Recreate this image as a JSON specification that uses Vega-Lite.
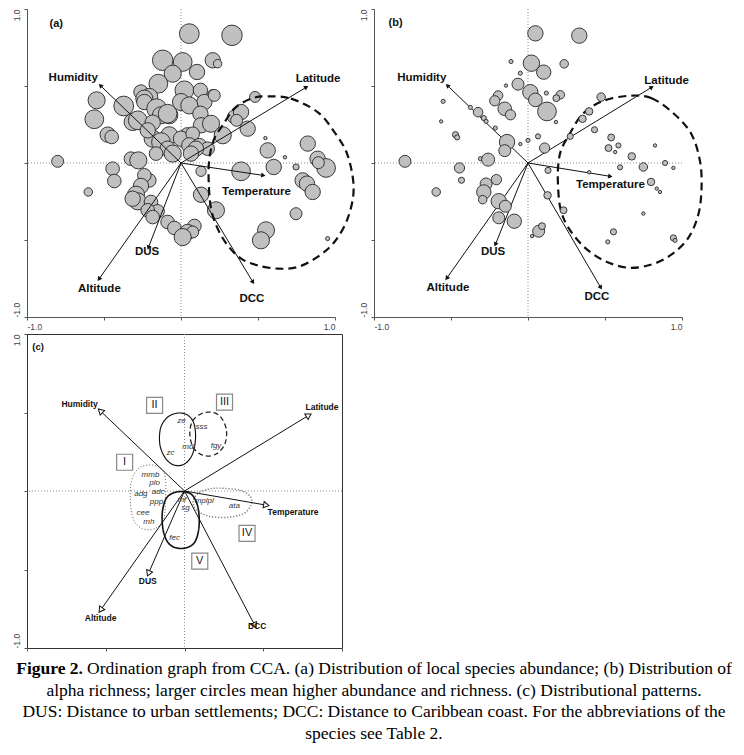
{
  "$schema": "https://vega.github.io/schema/vega-lite/v6.json",
  "padding": {"left": 5, "top": 8, "right": 0, "bottom": 0},
  "spacing": 2,
  "config": {
    "view": {"stroke": null},
    "font": "Liberation Sans",
    "axis": {"grid": false, "title": null, "domainColor": "#555", "tickColor": "#555", "tickSize": 3, "labelFontSize": 8.5, "labelColor": "#444", "labelFont": "Liberation Sans"}
  },
  "vconcat": [
    {
      "hconcat": [
        {
          "width": 308, "height": 308,
          "layer": [
            {"data": {"values": [{}]}, "mark": {"type": "rule", "stroke": "#8a8a8a", "strokeDash": [1, 2], "strokeWidth": 1},
             "encoding": {"x": {"datum": 0, "type": "quantitative", "scale": {"domain": [-1, 1], "nice": false, "zero": false},
               "axis": {"values": [-1, -0.5, 0, 0.5, 1], "labelExpr": "datum.value == 1 ? '1.0' : datum.value == -1 ? '-1.0' : ''", "labelFlush": true, "labelPadding": 2}}}},
            {"data": {"values": [{}]}, "mark": {"type": "rule", "stroke": "#8a8a8a", "strokeDash": [1, 2], "strokeWidth": 1},
             "encoding": {"y": {"datum": 0, "type": "quantitative", "scale": {"domain": [-1, 1], "nice": false, "zero": false},
               "axis": {"values": [-1, -0.5, 0, 0.5, 1], "labelExpr": "datum.value == 1 ? '1.0' : datum.value == -1 ? '-1.0' : ''", "labelAngle": 270, "labelBaseline": "bottom", "labelAlign": {"condition": {"test": "datum.value == 1", "value": "right"}, "value": "left"}, "labelFlush": false, "labelPadding": 3}}}},
            {"data": {"values": [
              {"x": 0.054, "y": 0.84, "a": 19.3}, {"x": 0.331, "y": 0.829, "a": 20}, {"x": -0.119, "y": 0.667, "a": 20}, {"x": 0.011, "y": 0.656, "a": 18.3},
              {"x": 0.206, "y": 0.667, "a": 15}, {"x": 0.238, "y": 0.645, "a": 8.3}, {"x": -0.054, "y": 0.58, "a": 16.7}, {"x": 0.104, "y": 0.591, "a": 15},
              {"x": -0.147, "y": 0.515, "a": 18.3}, {"x": -0.26, "y": 0.461, "a": 14}, {"x": 0.022, "y": 0.472, "a": 18.3}, {"x": 0.126, "y": 0.472, "a": 14},
              {"x": 0.206, "y": 0.444, "a": 10}, {"x": 0.481, "y": 0.429, "a": 10.7}, {"x": -0.548, "y": 0.407, "a": 16.7}, {"x": -0.206, "y": 0.429, "a": 16.7},
              {"x": -0.238, "y": 0.418, "a": 16.7}, {"x": 0, "y": 0.396, "a": 16.7}, {"x": 0.152, "y": 0.396, "a": 15}, {"x": 0.216, "y": 0.439, "a": 11.7},
              {"x": -0.238, "y": 0.396, "a": 15}, {"x": -0.372, "y": 0.37, "a": 19.3}, {"x": -0.158, "y": 0.353, "a": 19.3}, {"x": -0.13, "y": 0.31, "a": 16.7},
              {"x": -0.076, "y": 0.31, "a": 16.7}, {"x": 0.346, "y": 0.299, "a": 13.3}, {"x": -0.314, "y": 0.266, "a": 16.7},
              {"x": -0.087, "y": 0.32, "a": 18.3}, {"x": 0.054, "y": 0.374, "a": 16.7}, {"x": 0.126, "y": 0.32, "a": 15}, {"x": 0.39, "y": 0.331, "a": 15},
              {"x": 0.361, "y": 0.277, "a": 11.7}, {"x": -0.563, "y": 0.284, "a": 18.3}, {"x": -0.281, "y": 0.277, "a": 18.3}, {"x": -0.184, "y": 0.262, "a": 15},
              {"x": 0.13, "y": 0.245, "a": 15}, {"x": 0.043, "y": 0.18, "a": 15}, {"x": -0.076, "y": 0.18, "a": 16.7}, {"x": -0.184, "y": 0.158, "a": 16.7},
              {"x": -0.216, "y": 0.212, "a": 15}, {"x": 0.195, "y": 0.255, "a": 16.7}, {"x": 0.433, "y": 0.223, "a": 15}, {"x": -0.476, "y": 0.184, "a": 15},
              {"x": -0.45, "y": 0.169, "a": 13.3}, {"x": 0.271, "y": 0.18, "a": 16.7}, {"x": -0.13, "y": 0.136, "a": 18.3}, {"x": 0, "y": 0.158, "a": 15},
              {"x": 0.076, "y": 0.19, "a": 13.3}, {"x": 0.054, "y": 0.115, "a": 15}, {"x": 0.119, "y": 0.11, "a": 15}, {"x": 0.173, "y": 0.093, "a": 13.3},
              {"x": -0.087, "y": 0.093, "a": 15}, {"x": 0.097, "y": 0.093, "a": 15},
              {"x": 0.563, "y": 0.082, "a": 15}, {"x": 0.823, "y": 0.126, "a": 15}, {"x": 0.548, "y": 0.162, "a": 3.3}, {"x": 0.675, "y": 0.037, "a": 3.3},
              {"x": -0.054, "y": 0.061, "a": 16.7}, {"x": -0.162, "y": 0.061, "a": 13.3}, {"x": 0.065, "y": 0.061, "a": 15}, {"x": -0.325, "y": 0.028, "a": 13.3},
              {"x": -0.277, "y": 0.017, "a": 16.7}, {"x": -0.801, "y": 0.011, "a": 11.7}, {"x": 0.602, "y": -0.026, "a": 15}, {"x": 0.747, "y": -0.026, "a": 6},
              {"x": 0.887, "y": 0.028, "a": 15}, {"x": 0.942, "y": -0.032, "a": 18.3}, {"x": 0.892, "y": 0.002, "a": 11.7}, {"x": -0.444, "y": -0.037, "a": 13.3},
              {"x": -0.433, "y": -0.117, "a": 13.3}, {"x": 0.13, "y": -0.054, "a": 10}, {"x": 0.39, "y": -0.054, "a": 18.3}, {"x": -0.206, "y": -0.113, "a": 13.3},
              {"x": -0.238, "y": -0.08, "a": 13.3},
              {"x": -0.26, "y": -0.149, "a": 15}, {"x": -0.292, "y": -0.206, "a": 16.7}, {"x": -0.281, "y": -0.249, "a": 16.7}, {"x": -0.314, "y": -0.232, "a": 15},
              {"x": 0.79, "y": -0.113, "a": 15},
              {"x": 0.818, "y": -0.134, "a": 15}, {"x": 0.855, "y": -0.188, "a": 15}, {"x": -0.602, "y": -0.188, "a": 8.3}, {"x": 0.13, "y": -0.206, "a": 15},
              {"x": -0.195, "y": -0.253, "a": 13.3}, {"x": -0.152, "y": -0.314, "a": 13.3}, {"x": -0.216, "y": -0.307, "a": 13.3}, {"x": -0.184, "y": -0.351, "a": 13.3}, {"x": 0.227, "y": -0.307, "a": 16.7},
              {"x": 0.747, "y": -0.329, "a": 11.7}, {"x": -0.087, "y": -0.383, "a": 13.3}, {"x": -0.043, "y": -0.422, "a": 13.3}, {"x": 0.087, "y": -0.409, "a": 13.3},
              {"x": 0.043, "y": -0.448, "a": 15},
              {"x": 0.076, "y": -0.448, "a": 11.7}, {"x": 0.552, "y": -0.437, "a": 16.7}, {"x": 0.519, "y": -0.502, "a": 16.7}, {"x": 0.011, "y": -0.481, "a": 16.7},
              {"x": 0.952, "y": -0.491, "a": 4}
            ]},
             "mark": {"type": "circle", "fill": "#c0c0c0", "stroke": "#262626", "strokeWidth": 0.9, "opacity": 1},
             "encoding": {"x": {"field": "x", "type": "quantitative"}, "y": {"field": "y", "type": "quantitative"},
               "size": {"field": "a", "type": "quantitative", "scale": {"type": "pow", "exponent": 2, "domain": [0, 20], "range": [0, 420]}, "legend": null}}},
            {"data": {"values": [
              {"i": 1, "x": 0.563, "y": 0.433}, {"i": 2, "x": 0.714, "y": 0.418}, {"i": 3, "x": 0.887, "y": 0.331}, {"i": 4, "x": 0.996, "y": 0.201},
              {"i": 5, "x": 1.082, "y": 0.05}, {"i": 6, "x": 1.121, "y": -0.167}, {"i": 7, "x": 1.082, "y": -0.361}, {"i": 8, "x": 0.996, "y": -0.513},
              {"i": 9, "x": 0.887, "y": -0.61}, {"i": 10, "x": 0.758, "y": -0.675}, {"i": 11, "x": 0.628, "y": -0.686}, {"i": 12, "x": 0.498, "y": -0.665},
              {"i": 13, "x": 0.39, "y": -0.621}, {"i": 14, "x": 0.303, "y": -0.535}, {"i": 15, "x": 0.238, "y": -0.426}, {"i": 16, "x": 0.195, "y": -0.297},
              {"i": 17, "x": 0.18, "y": -0.123}, {"i": 18, "x": 0.184, "y": 0.028}, {"i": 19, "x": 0.216, "y": 0.158}, {"i": 20, "x": 0.271, "y": 0.245},
              {"i": 21, "x": 0.346, "y": 0.353}, {"i": 22, "x": 0.455, "y": 0.418}
            ]},
             "mark": {"type": "line", "interpolate": "cardinal-closed", "stroke": "#111", "strokeWidth": 2.2, "strokeDash": [8, 5]},
             "encoding": {"x": {"field": "x", "type": "quantitative"}, "y": {"field": "y", "type": "quantitative"}, "order": {"field": "i"}}},
            {"data": {"name": "vecA", "values": [
              {"v": "Humidity", "x": -0.52, "y": 0.5, "lx": -0.7, "ly": 0.55},
              {"v": "Latitude", "x": 0.81, "y": 0.49, "lx": 0.89, "ly": 0.545},
              {"v": "Temperature", "x": 0.53, "y": -0.08, "lx": 0.49, "ly": -0.19},
              {"v": "DUS", "x": -0.21, "y": -0.545, "lx": -0.22, "ly": -0.58},
              {"v": "Altitude", "x": -0.53, "y": -0.75, "lx": -0.53, "ly": -0.82},
              {"v": "DCC", "x": 0.465, "y": -0.77, "lx": 0.46, "ly": -0.88}
            ]},
             "layer": [
               {"mark": {"type": "rule", "stroke": "#111", "strokeWidth": 1},
                "encoding": {"x": {"field": "x", "type": "quantitative"}, "x2": {"datum": 0}, "y": {"field": "y", "type": "quantitative"}, "y2": {"datum": 0}}},
               {"transform": [{"calculate": "atan2(datum.x, datum.y) * 180 / PI", "as": "ang"}],
                "mark": {"type": "point", "shape": "triangle", "filled": true, "fill": "#111", "size": 26, "opacity": 1},
                "encoding": {"x": {"field": "x", "type": "quantitative"}, "y": {"field": "y", "type": "quantitative"}, "angle": {"field": "ang", "type": "quantitative", "scale": null}}},
               {"mark": {"type": "text", "fontWeight": "bold", "fontSize": 11.5, "fill": "#111"},
                "encoding": {"x": {"field": "lx", "type": "quantitative"}, "y": {"field": "ly", "type": "quantitative"}, "text": {"field": "v"}}}
             ]},
            {"data": {"values": [{"x": -0.81, "y": 0.9, "t": "(a)"}]},
             "mark": {"type": "text", "fontWeight": "bold", "fontSize": 11, "fill": "#111"},
             "encoding": {"x": {"field": "x", "type": "quantitative"}, "y": {"field": "y", "type": "quantitative"}, "text": {"field": "t"}}}
          ]
        },
        {
          "width": 308, "height": 308,
          "layer": [
            {"data": {"values": [{}]}, "mark": {"type": "rule", "stroke": "#8a8a8a", "strokeDash": [1, 2], "strokeWidth": 1},
             "encoding": {"x": {"datum": 0, "type": "quantitative", "scale": {"domain": [-1, 1], "nice": false, "zero": false},
               "axis": {"values": [-1, -0.5, 0, 0.5, 1], "labelExpr": "datum.value == 1 ? '1.0' : datum.value == -1 ? '-1.0' : ''", "labelFlush": true, "labelPadding": 2}}}},
            {"data": {"values": [{}]}, "mark": {"type": "rule", "stroke": "#8a8a8a", "strokeDash": [1, 2], "strokeWidth": 1},
             "encoding": {"y": {"datum": 0, "type": "quantitative", "scale": {"domain": [-1, 1], "nice": false, "zero": false},
               "axis": {"values": [-1, -0.5, 0, 0.5, 1], "labelExpr": "datum.value == 1 ? '1.0' : datum.value == -1 ? '-1.0' : ''", "labelAngle": 270, "labelBaseline": "bottom", "labelAlign": {"condition": {"test": "datum.value == 1", "value": "right"}, "value": "left"}, "labelFlush": false, "labelPadding": 3}}}},
            {"data": {"values": [
              {"x": 0.652, "y": 0.436, "i": 1}, {"x": 0.803, "y": 0.421, "i": 2}, {"x": 0.955, "y": 0.313, "i": 3}, {"x": 1.063, "y": 0.184, "i": 4},
              {"x": 1.117, "y": 0.011, "i": 5}, {"x": 1.127, "y": -0.162, "i": 6}, {"x": 1.106, "y": -0.335, "i": 7}, {"x": 1.041, "y": -0.486, "i": 8},
              {"x": 0.933, "y": -0.594, "i": 9}, {"x": 0.803, "y": -0.659, "i": 10}, {"x": 0.652, "y": -0.68, "i": 11}, {"x": 0.501, "y": -0.637, "i": 12},
              {"x": 0.371, "y": -0.551, "i": 13}, {"x": 0.263, "y": -0.421, "i": 14}, {"x": 0.21, "y": -0.292, "i": 15}, {"x": 0.194, "y": -0.119, "i": 16},
              {"x": 0.199, "y": 0.011, "i": 17}, {"x": 0.22, "y": 0.097, "i": 18}, {"x": 0.268, "y": 0.184, "i": 19}, {"x": 0.35, "y": 0.313, "i": 20},
              {"x": 0.479, "y": 0.4, "i": 21}
            ]},
             "mark": {"type": "line", "interpolate": "cardinal-closed", "stroke": "#111", "strokeWidth": 2.2, "strokeDash": [8, 5]},
             "encoding": {"x": {"field": "x", "type": "quantitative"}, "y": {"field": "y", "type": "quantitative"}, "order": {"field": "i"}}},
            {"data": {"name": "vecB", "values": [
              {"v": "Humidity", "x": -0.52, "y": 0.5, "lx": -0.69, "ly": 0.555},
              {"v": "Latitude", "x": 0.8, "y": 0.49, "lx": 0.9, "ly": 0.535},
              {"v": "Temperature", "x": 0.53, "y": -0.086, "lx": 0.535, "ly": -0.14},
              {"v": "DUS", "x": -0.21, "y": -0.525, "lx": -0.227, "ly": -0.577},
              {"v": "Altitude", "x": -0.525, "y": -0.745, "lx": -0.52, "ly": -0.81},
              {"v": "DCC", "x": 0.47, "y": -0.805, "lx": 0.447, "ly": -0.87}
            ]},
             "layer": [
               {"mark": {"type": "rule", "stroke": "#111", "strokeWidth": 1},
                "encoding": {"x": {"field": "x", "type": "quantitative"}, "x2": {"datum": 0}, "y": {"field": "y", "type": "quantitative"}, "y2": {"datum": 0}}},
               {"transform": [{"calculate": "atan2(datum.x, datum.y) * 180 / PI", "as": "ang"}],
                "mark": {"type": "point", "shape": "triangle", "filled": true, "fill": "#111", "size": 26, "opacity": 1},
                "encoding": {"x": {"field": "x", "type": "quantitative"}, "y": {"field": "y", "type": "quantitative"}, "angle": {"field": "ang", "type": "quantitative", "scale": null}}}
             ]},
            {"data": {"values": [
              {"x": 0.048, "y": 0.842, "a": 15}, {"x": 0.333, "y": 0.827, "a": 15}, {"x": 0.022, "y": 0.648, "a": 16}, {"x": 0.102, "y": 0.59, "a": 14},
              {"x": 0.235, "y": 0.644, "a": 8.3}, {"x": -0.11, "y": 0.659, "a": 4}, {"x": -0.05, "y": 0.583, "a": 4}, {"x": -0.065, "y": 0.512, "a": 11.7},
              {"x": -0.143, "y": 0.503, "a": 3.3}, {"x": 0.015, "y": 0.46, "a": 15}, {"x": 0.048, "y": 0.41, "a": 13.3}, {"x": 0.123, "y": 0.335, "a": 18.3},
              {"x": 0.21, "y": 0.443, "a": 8.3}, {"x": 0.184, "y": 0.421, "a": 6.7}, {"x": 0.119, "y": 0.454, "a": 4}, {"x": -0.194, "y": 0.438, "a": 9.3},
              {"x": -0.216, "y": 0.404, "a": 10}, {"x": -0.151, "y": 0.352, "a": 13.3}, {"x": -0.114, "y": 0.313, "a": 10}, {"x": 0.181, "y": 0.266, "a": 3.3},
              {"x": -0.551, "y": 0.4, "a": 4}, {"x": -0.374, "y": 0.361, "a": 4}, {"x": -0.324, "y": 0.33, "a": 9.3}, {"x": -0.287, "y": 0.292, "a": 5},
              {"x": -0.272, "y": 0.27, "a": 4}, {"x": -0.212, "y": 0.227, "a": 4}, {"x": -0.564, "y": 0.27, "a": 3.3}, {"x": -0.471, "y": 0.184, "a": 6},
              {"x": -0.46, "y": 0.166, "a": 5}, {"x": -0.136, "y": 0.136, "a": 15}, {"x": -0.151, "y": 0.08, "a": 11.7}, {"x": 0, "y": 0.147, "a": 4},
              {"x": 0.065, "y": 0.173, "a": 5}, {"x": 0.108, "y": 0.097, "a": 10}, {"x": -0.05, "y": 0.123, "a": 3.3}, {"x": 0.475, "y": 0.428, "a": 8.3},
              {"x": 0.397, "y": 0.335, "a": 7.3}, {"x": 0.354, "y": 0.287, "a": 7.3}, {"x": 0.274, "y": 0.173, "a": 6}, {"x": 0.432, "y": 0.216, "a": 6},
              {"x": 0.54, "y": 0.166, "a": 6.7}, {"x": 0.523, "y": 0.097, "a": 6.7}, {"x": 0.587, "y": 0.114, "a": 5}, {"x": 0.566, "y": 0.071, "a": 3.3},
              {"x": 0.825, "y": 0.114, "a": 3.3}, {"x": 0.674, "y": 0.043, "a": 7.3}, {"x": 0.749, "y": -0.026, "a": 8.3}, {"x": 0.89, "y": 0, "a": 5},
              {"x": 0.944, "y": -0.032, "a": 3.3}, {"x": 0.598, "y": -0.028, "a": 5}, {"x": 0.397, "y": -0.06, "a": 3.3}, {"x": -0.799, "y": 0.011, "a": 11.7},
              {"x": -0.445, "y": -0.032, "a": 10}, {"x": -0.432, "y": -0.112, "a": 6}, {"x": -0.309, "y": 0.028, "a": 4}, {"x": -0.259, "y": 0.022, "a": 12.7},
              {"x": 0.13, "y": -0.048, "a": 6}, {"x": -0.205, "y": -0.108, "a": 10}, {"x": -0.272, "y": -0.136, "a": 11.7}, {"x": -0.287, "y": -0.188, "a": 14},
              {"x": -0.294, "y": -0.238, "a": 8.3}, {"x": -0.19, "y": -0.248, "a": 15}, {"x": -0.147, "y": -0.281, "a": 11.7}, {"x": -0.19, "y": -0.356, "a": 11.7},
              {"x": -0.089, "y": -0.378, "a": 14}, {"x": -0.596, "y": -0.188, "a": 8.3}, {"x": 0.127, "y": -0.21, "a": 7.3}, {"x": 0.231, "y": -0.307, "a": 6.7},
              {"x": 0.069, "y": -0.443, "a": 11.7}, {"x": 0.091, "y": -0.41, "a": 6.7}, {"x": 0.026, "y": -0.475, "a": 3.3}, {"x": 0.799, "y": -0.123, "a": 7.3},
              {"x": 0.836, "y": -0.166, "a": 3.3}, {"x": 0.857, "y": -0.188, "a": 3.3}, {"x": 0.749, "y": -0.328, "a": 3.3}, {"x": 0.555, "y": -0.447, "a": 6},
              {"x": 0.518, "y": -0.512, "a": 4}, {"x": 0.944, "y": -0.486, "a": 6}, {"x": 0.955, "y": -0.503, "a": 4}
            ]},
             "mark": {"type": "circle", "fill": "#c0c0c0", "stroke": "#262626", "strokeWidth": 0.9, "opacity": 1},
             "encoding": {"x": {"field": "x", "type": "quantitative"}, "y": {"field": "y", "type": "quantitative"},
               "size": {"field": "a", "type": "quantitative", "scale": {"type": "pow", "exponent": 2, "domain": [0, 20], "range": [0, 420]}, "legend": null}}},
            {"data": {"name": "vecB"},
             "mark": {"type": "text", "fontWeight": "bold", "fontSize": 11.5, "fill": "#111"},
             "encoding": {"x": {"field": "lx", "type": "quantitative"}, "y": {"field": "ly", "type": "quantitative"}, "text": {"field": "v"}}},
            {"data": {"values": [{"x": -0.86, "y": 0.91, "t": "(b)"}]},
             "mark": {"type": "text", "fontWeight": "bold", "fontSize": 11, "fill": "#111"},
             "encoding": {"x": {"field": "x", "type": "quantitative"}, "y": {"field": "y", "type": "quantitative"}, "text": {"field": "t"}}}
          ]
        }
      ],
      "spacing": 0
    },
    {
      "width": 315, "height": 314,
      "view": {"stroke": "#333", "strokeWidth": 1},
      "layer": [
        {"data": {"values": [{}]}, "mark": {"type": "rule", "stroke": "#8a8a8a", "strokeDash": [1, 2], "strokeWidth": 1},
         "encoding": {"x": {"datum": 0, "type": "quantitative", "scale": {"domain": [-1, 1], "nice": false, "zero": false},
           "axis": {"values": [-1, -0.5, 0, 0.5, 1], "labels": false, "domain": false}}}},
        {"data": {"values": [{}]}, "mark": {"type": "rule", "stroke": "#8a8a8a", "strokeDash": [1, 2], "strokeWidth": 1},
         "encoding": {"y": {"datum": 0, "type": "quantitative", "scale": {"domain": [-1, 1], "nice": false, "zero": false},
           "axis": {"values": [-1, -0.5, 0, 0.5, 1], "labelExpr": "datum.value == 1 ? '1.0' : datum.value == -1 ? '-1.0' : ''", "labelAngle": 270, "labelBaseline": "bottom", "labelAlign": {"condition": {"test": "datum.value == 1", "value": "right"}, "value": "left"}, "labelFlush": false, "labelPadding": 3, "domain": false,
             "title": " ", "titleFontSize": 1, "titlePadding": 5}}}},
        {"data": {"values": [
          {"g": "I", "i": 1, "x": -0.216, "y": 0.166}, {"g": "I", "i": 2, "x": -0.152, "y": 0.145}, {"g": "I", "i": 3, "x": -0.121, "y": 0.081}, {"g": "I", "i": 4, "x": -0.121, "y": -0.047},
          {"g": "I", "i": 5, "x": -0.131, "y": -0.174}, {"g": "I", "i": 6, "x": -0.184, "y": -0.238}, {"g": "I", "i": 7, "x": -0.258, "y": -0.243}, {"g": "I", "i": 8, "x": -0.317, "y": -0.196},
          {"g": "I", "i": 9, "x": -0.342, "y": -0.089}, {"g": "I", "i": 10, "x": -0.338, "y": 0.06}, {"g": "I", "i": 11, "x": -0.29, "y": 0.145},
          {"g": "II", "i": 1, "x": -0.047, "y": 0.496}, {"g": "II", "i": 2, "x": 0.017, "y": 0.485}, {"g": "II", "i": 3, "x": 0.059, "y": 0.432}, {"g": "II", "i": 4, "x": 0.07, "y": 0.336},
          {"g": "II", "i": 5, "x": 0.049, "y": 0.23}, {"g": "II", "i": 6, "x": -0.004, "y": 0.17}, {"g": "II", "i": 7, "x": -0.068, "y": 0.166}, {"g": "II", "i": 8, "x": -0.121, "y": 0.209},
          {"g": "II", "i": 9, "x": -0.156, "y": 0.294}, {"g": "II", "i": 10, "x": -0.152, "y": 0.4}, {"g": "II", "i": 11, "x": -0.11, "y": 0.468},
          {"g": "III", "i": 1, "x": 0.165, "y": 0.502}, {"g": "III", "i": 2, "x": 0.228, "y": 0.474}, {"g": "III", "i": 3, "x": 0.266, "y": 0.389}, {"g": "III", "i": 4, "x": 0.254, "y": 0.294},
          {"g": "III", "i": 5, "x": 0.197, "y": 0.234}, {"g": "III", "i": 6, "x": 0.123, "y": 0.226}, {"g": "III", "i": 7, "x": 0.059, "y": 0.272}, {"g": "III", "i": 8, "x": 0.034, "y": 0.357},
          {"g": "III", "i": 9, "x": 0.049, "y": 0.443}, {"g": "III", "i": 10, "x": 0.101, "y": 0.489},
          {"g": "IV", "i": 1, "x": 0.249, "y": 0.017}, {"g": "IV", "i": 2, "x": 0.355, "y": 0.004}, {"g": "IV", "i": 3, "x": 0.419, "y": -0.036}, {"g": "IV", "i": 4, "x": 0.423, "y": -0.089},
          {"g": "IV", "i": 5, "x": 0.376, "y": -0.143}, {"g": "IV", "i": 6, "x": 0.271, "y": -0.168}, {"g": "IV", "i": 7, "x": 0.154, "y": -0.16}, {"g": "IV", "i": 8, "x": 0.076, "y": -0.121},
          {"g": "IV", "i": 9, "x": 0.055, "y": -0.064}, {"g": "IV", "i": 10, "x": 0.091, "y": -0.011}, {"g": "IV", "i": 11, "x": 0.165, "y": 0.015},
          {"g": "V", "i": 1, "x": -0.015, "y": -0.004}, {"g": "V", "i": 2, "x": 0.049, "y": -0.026}, {"g": "V", "i": 3, "x": 0.087, "y": -0.111}, {"g": "V", "i": 4, "x": 0.091, "y": -0.238},
          {"g": "V", "i": 5, "x": 0.059, "y": -0.334}, {"g": "V", "i": 6, "x": -0.015, "y": -0.366}, {"g": "V", "i": 7, "x": -0.089, "y": -0.345}, {"g": "V", "i": 8, "x": -0.131, "y": -0.27},
          {"g": "V", "i": 9, "x": -0.142, "y": -0.153}, {"g": "V", "i": 10, "x": -0.121, "y": -0.057}, {"g": "V", "i": 11, "x": -0.078, "y": -0.015}
        ]},
         "mark": {"type": "line", "interpolate": "cardinal-closed"},
         "encoding": {"x": {"field": "x", "type": "quantitative"}, "y": {"field": "y", "type": "quantitative"}, "order": {"field": "i"},
           "color": {"field": "g", "type": "nominal", "scale": {"domain": ["I", "II", "III", "IV", "V"], "range": ["#777", "#111", "#222", "#777", "#111"]}, "legend": null},
           "strokeDash": {"field": "g", "type": "nominal", "scale": {"domain": ["I", "II", "III", "IV", "V"], "range": [[1.2, 1.8], [1, 0], [5, 3], [1.2, 1.8], [1, 0]]}, "legend": null},
           "strokeWidth": {"field": "g", "type": "nominal", "scale": {"domain": ["I", "II", "III", "IV", "V"], "range": [1, 1.6, 1.3, 1, 1.6]}, "legend": null}}},
        {"data": {"name": "vecC", "values": [
          {"v": "Humidity", "x": -0.53, "y": 0.506, "lx": -0.666, "ly": 0.553},
          {"v": "Latitude", "x": 0.784, "y": 0.479, "lx": 0.873, "ly": 0.538},
          {"v": "Temperature", "x": 0.514, "y": -0.089, "lx": 0.689, "ly": -0.132},
          {"v": "DUS", "x": -0.226, "y": -0.519, "lx": -0.233, "ly": -0.574},
          {"v": "Altitude", "x": -0.529, "y": -0.753, "lx": -0.533, "ly": -0.806},
          {"v": "DCC", "x": 0.444, "y": -0.851, "lx": 0.461, "ly": -0.86}
        ]},
         "layer": [
           {"mark": {"type": "rule", "stroke": "#111", "strokeWidth": 1},
            "encoding": {"x": {"field": "x", "type": "quantitative"}, "x2": {"datum": 0}, "y": {"field": "y", "type": "quantitative"}, "y2": {"datum": 0}}},
           {"transform": [{"calculate": "atan2(datum.x, datum.y) * 180 / PI", "as": "ang"}],
            "mark": {"type": "point", "shape": "triangle", "filled": true, "fill": "white", "stroke": "#111", "strokeWidth": 1, "size": 40, "opacity": 1},
            "encoding": {"x": {"field": "x", "type": "quantitative"}, "y": {"field": "y", "type": "quantitative"}, "angle": {"field": "ang", "type": "quantitative", "scale": null}}},
           {"mark": {"type": "text", "fontWeight": "bold", "fontSize": 8.5, "fill": "#111"},
            "encoding": {"x": {"field": "lx", "type": "quantitative"}, "y": {"field": "ly", "type": "quantitative"}, "text": {"field": "v"}}}
         ]},
        {"data": {"values": [
          {"s": "ze", "x": -0.019, "y": 0.443}, {"s": "sss", "x": 0.108, "y": 0.41}, {"s": "md", "x": 0.021, "y": 0.283}, {"s": "fgy", "x": 0.2, "y": 0.289},
          {"s": "zc", "x": -0.089, "y": 0.24}, {"s": "mmb", "x": -0.216, "y": 0.105}, {"s": "plo", "x": -0.19, "y": 0.053}, {"s": "adc", "x": -0.167, "y": -0.004},
          {"s": "adg", "x": -0.277, "y": -0.019}, {"s": "ppp", "x": -0.178, "y": -0.07}, {"s": "mf", "x": -0.017, "y": -0.058}, {"s": "sg", "x": 0.006, "y": -0.106},
          {"s": "mplpl", "x": 0.125, "y": -0.064}, {"s": "ata", "x": 0.317, "y": -0.094}, {"s": "cee", "x": -0.264, "y": -0.143}, {"s": "mh", "x": -0.226, "y": -0.196},
          {"s": "fec", "x": -0.063, "y": -0.298}
        ]},
         "mark": {"type": "text", "fontStyle": "italic", "fontSize": 8, "fill": "#333"},
         "encoding": {"x": {"field": "x", "type": "quantitative"}, "y": {"field": "y", "type": "quantitative"}, "text": {"field": "s"}}},
        {"data": {"values": [
          {"n": "I", "x": -0.38, "y": 0.183}, {"n": "II", "x": -0.19, "y": 0.545}, {"n": "III", "x": 0.254, "y": 0.566}, {"n": "IV", "x": 0.397, "y": -0.27}, {"n": "V", "x": 0.097, "y": -0.447}
        ]},
         "layer": [
           {"mark": {"type": "point", "shape": "square", "filled": true, "fill": "white", "stroke": "#888", "strokeWidth": 1.2, "size": 256, "opacity": 1},
            "encoding": {"x": {"field": "x", "type": "quantitative"}, "y": {"field": "y", "type": "quantitative"}}},
           {"mark": {"type": "text", "fontSize": 11, "fill": "#222"},
            "encoding": {"x": {"field": "x", "type": "quantitative"}, "y": {"field": "y", "type": "quantitative"}, "text": {"field": "n"}}}
         ]},
        {"data": {"values": [{"x": -0.93, "y": 0.92, "t": "(c)"}]},
         "mark": {"type": "text", "fontWeight": "bold", "fontSize": 9.5, "fill": "#111"},
         "encoding": {"x": {"field": "x", "type": "quantitative"}, "y": {"field": "y", "type": "quantitative"}, "text": {"field": "t"}}}
      ]
    },
    {
      "width": 694, "height": 95,
      "data": {"values": [
        {"line": 1, "part": "b", "t": "Figure 2."},
        {"line": 1, "part": "r", "t": "Ordination graph from CCA. (a) Distribution of local species abundance; (b) Distribution of"},
        {"line": 2, "part": "c", "t": "alpha richness; larger circles mean higher abundance and richness. (c) Distributional patterns."},
        {"line": 3, "part": "c", "t": "DUS: Distance to urban settlements; DCC: Distance to Caribbean coast. For the abbreviations of the"},
        {"line": 4, "part": "c", "t": "species see Table 2."}
      ]},
      "encoding": {"y": {"field": "line", "type": "ordinal", "axis": null, "scale": {"type": "point", "domain": [1, 2, 3, 4], "padding": 0.7}}, "text": {"field": "t"}},
      "layer": [
        {"transform": [{"filter": "datum.part == 'c'"}], "mark": {"type": "text", "font": "Liberation Serif", "fontSize": 17.5, "fill": "#000"}},
        {"transform": [{"filter": "datum.part == 'b'"}], "mark": {"type": "text", "font": "Liberation Serif", "fontSize": 17.5, "fontWeight": "bold", "fill": "#000", "align": "right", "dx": -291}},
        {"transform": [{"filter": "datum.part == 'r'"}], "mark": {"type": "text", "font": "Liberation Serif", "fontSize": 17.5, "fill": "#000", "align": "left", "dx": -287}}
      ]
    }
  ]
}
